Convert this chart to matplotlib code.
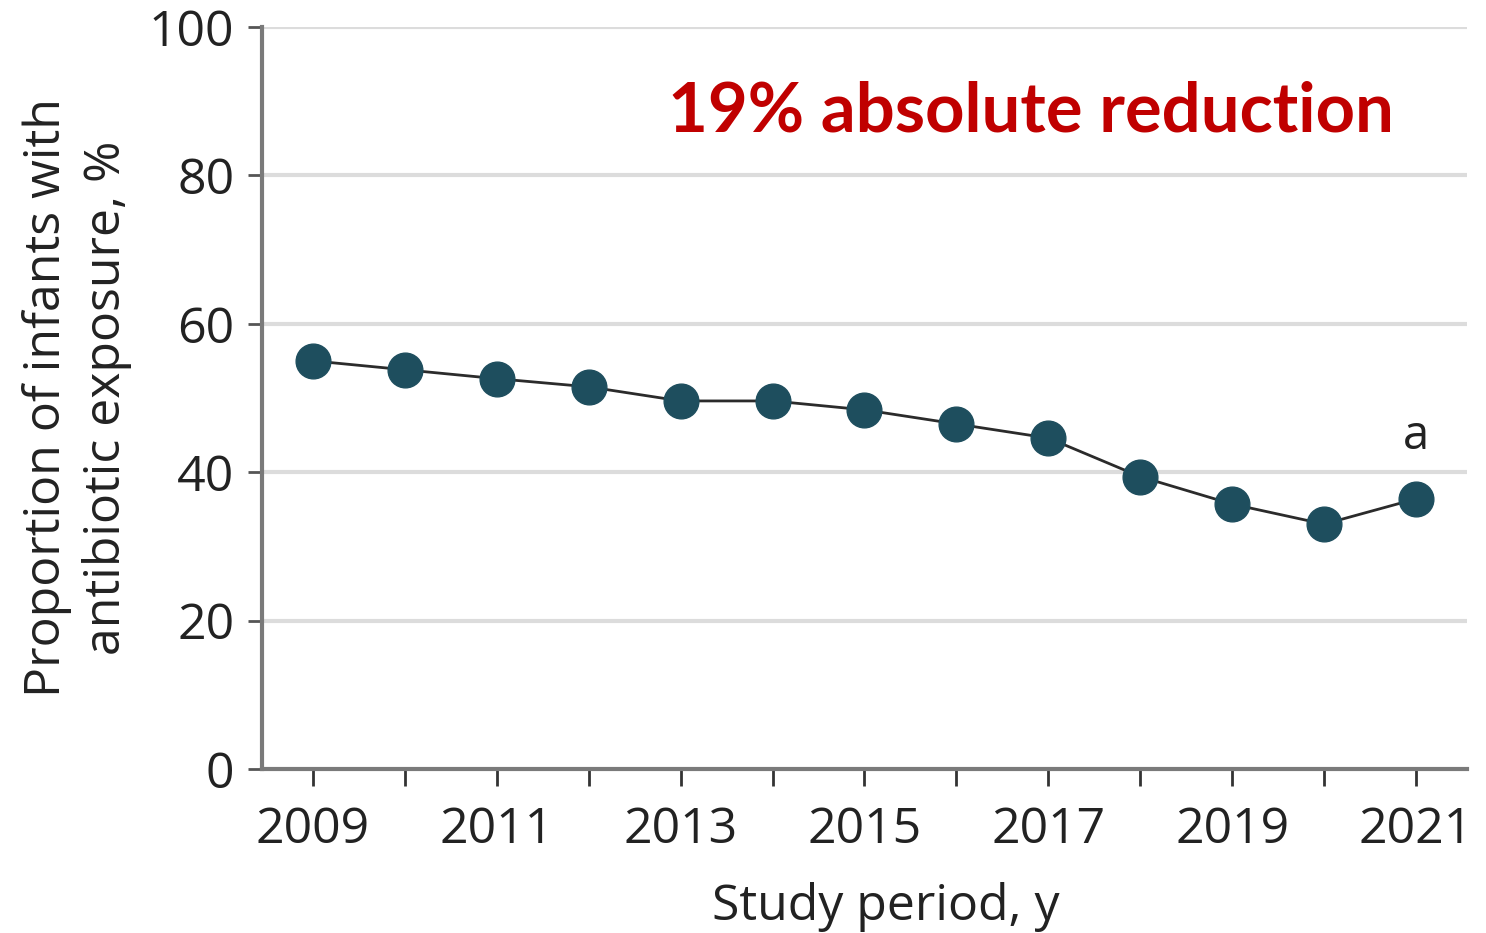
import numpy as np
import matplotlib
matplotlib.use("Agg")
import matplotlib.pyplot as plt

# yearly share of infants exposed to antibiotics
years = [2009, 2010, 2011, 2012, 2013, 2014, 2015, 2016, 2017, 2018, 2019, 2020, 2021]
exposure_pct = [55.0, 53.8, 52.6, 51.5, 49.6, 49.6, 48.4, 46.5, 44.6, 39.4, 35.7, 33.0, 36.4]
y_ticks = [0, 20, 40, 60, 80, 100]
x_labels = [str(y) if y % 2 == 1 else "" for y in years]

plt.rcParams['font.family'] = ['Open Sans', 'DejaVu Sans']

fig = plt.figure(figsize=(14.86, 9.33), dpi=100)
ax = fig.add_axes([0.1763, 0.1758, 0.8109, 0.7953])

ax.plot(years, exposure_pct, color='#2b2b2b', lw=2, zorder=3)
ax.plot(years, exposure_pct, 'o', ms=25, color='#1e4e5e', zorder=4)

ax.set_xlim(2008.445, 2021.555)
ax.set_ylim(0, 100)
ax.set_yticks(y_ticks)
ax.set_xticks(years)
ax.set_xticklabels(x_labels)

for v in y_ticks[1:]:
    ax.axhline(v, color='#dcdcdc', lw=3, zorder=1)

for side in ('top', 'right'):
    ax.spines[side].set_visible(False)
for side in ('left', 'bottom'):
    ax.spines[side].set_color('#7a7a7a')
    ax.spines[side].set_linewidth(3)

ax.tick_params(axis='y', length=10, width=2, color='#555555', pad=10,
               labelsize=36, labelcolor='#222222')
ax.tick_params(axis='x', length=12, width=2, color='#333333', pad=14,
               labelsize=36, labelcolor='#222222')

ax.set_xlabel('Study period, y', fontsize=36, color='#222222')
ax.xaxis.set_label_coords(0.518, -0.152)
ax.set_ylabel('Proportion of infants with\nantibiotic exposure, %', fontsize=36,
              color='#222222', linespacing=1.25)
ax.yaxis.set_label_coords(-0.108, 0.5)

ax.text(2021, exposure_pct[-1] + 5.2, 'a', fontsize=34, color='#222222',
        ha='center', va='bottom')
ax.text(2012.86, 88.5, '19% absolute reduction', fontsize=49.5, fontweight='bold',
        family=['Lato', 'DejaVu Sans'], color='#c00000', ha='left', va='center')

fig.savefig('out.png', dpi=100)
